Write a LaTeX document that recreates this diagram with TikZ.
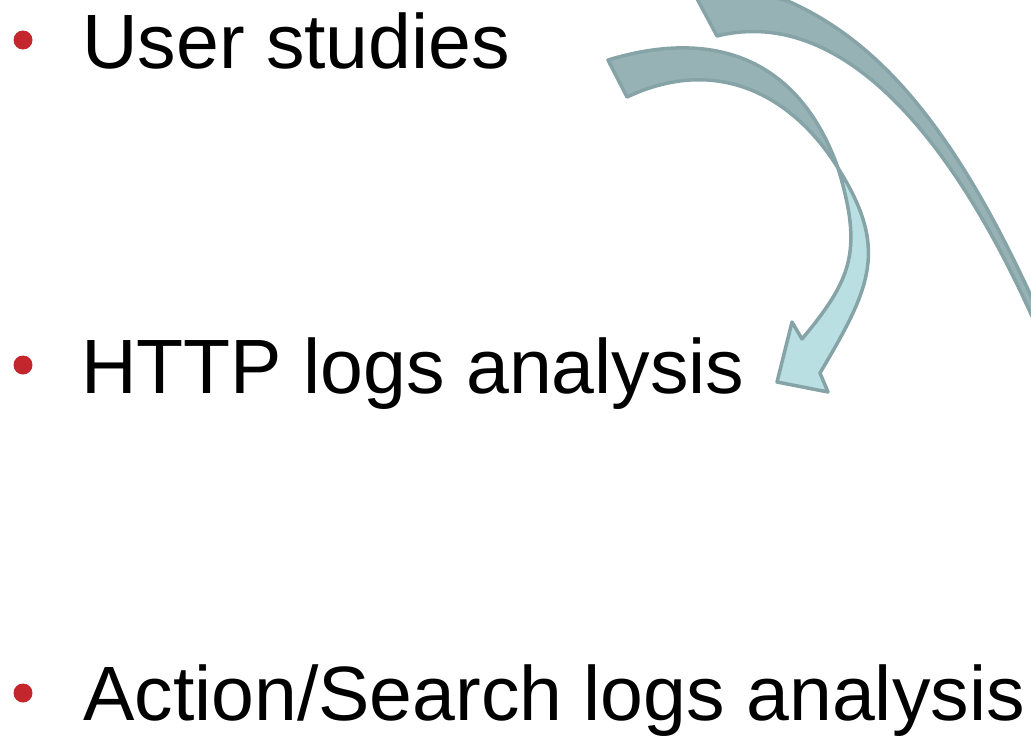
\documentclass[tikz,border=0pt]{standalone}
\usepackage{fontspec}
\setmainfont{Liberation Sans}
\definecolor{bandback}{HTML}{96B2B4}
\definecolor{bandedge}{HTML}{86A4A7}
\definecolor{bandfront}{HTML}{BADFE3}
\definecolor{bulletred}{HTML}{C4262E}
\tikzset{
  itemtext/.style={anchor=base west, inner sep=0pt, font=\fontsize{77}{90}\selectfont, text=black},
  bulletdot/.style={circle, fill=bulletred, draw=none, minimum size=19pt, inner sep=0pt},
  backpart/.style={fill=bandback, draw=bandedge, line width=3.5pt, line join=round},
  frontpart/.style={fill=bandfront, draw=bandedge, line width=3.5pt, line join=round},
}
\begin{document}
\begin{tikzpicture}[x=1pt,y=-1pt]
\useasboundingbox (0,0) rectangle (1031,736);
\clip (0,0) rectangle (1031,736);

% bullets and items
\node[bulletdot] (b1) at (23,40) {};
\node[bulletdot] (b2) at (23,365) {};
\node[bulletdot] (b3) at (23,693) {};
\node[itemtext] (t1) at (82,68) {User studies};
\node[itemtext] (t2) at (81,393) {HTTP logs analysis};
\node[itemtext] (t3) at (83,720) {Action/Search logs analysis};

% large curved arrow (runs off the top and right edges)
\draw[backpart] (687,-20) .. controls (730,-14) and (760,-8) .. (790,2)
  .. controls (875,40.5) and (950,120) .. (1031,296) -- (1045,324)
  -- (1045,345) -- (1031,314)
  .. controls (936.4,106) and (826.5,8.7) .. (717,36) -- cycle;

% small curved arrow: back part
\draw[backpart] (608,60) .. controls (720.5,26) and (801,64) .. (838,168)
  .. controls (792,94) and (716,55) .. (627,97) -- cycle;
% small curved arrow: front part with head
\draw[frontpart] (838,168) .. controls (889,249) and (871,287) .. (820,373)
  -- (828,392) -- (777,382) -- (792,322) -- (802,339)
  .. controls (852,279) and (863,250.6) .. (838,168) -- cycle;
\end{tikzpicture}
\end{document}
